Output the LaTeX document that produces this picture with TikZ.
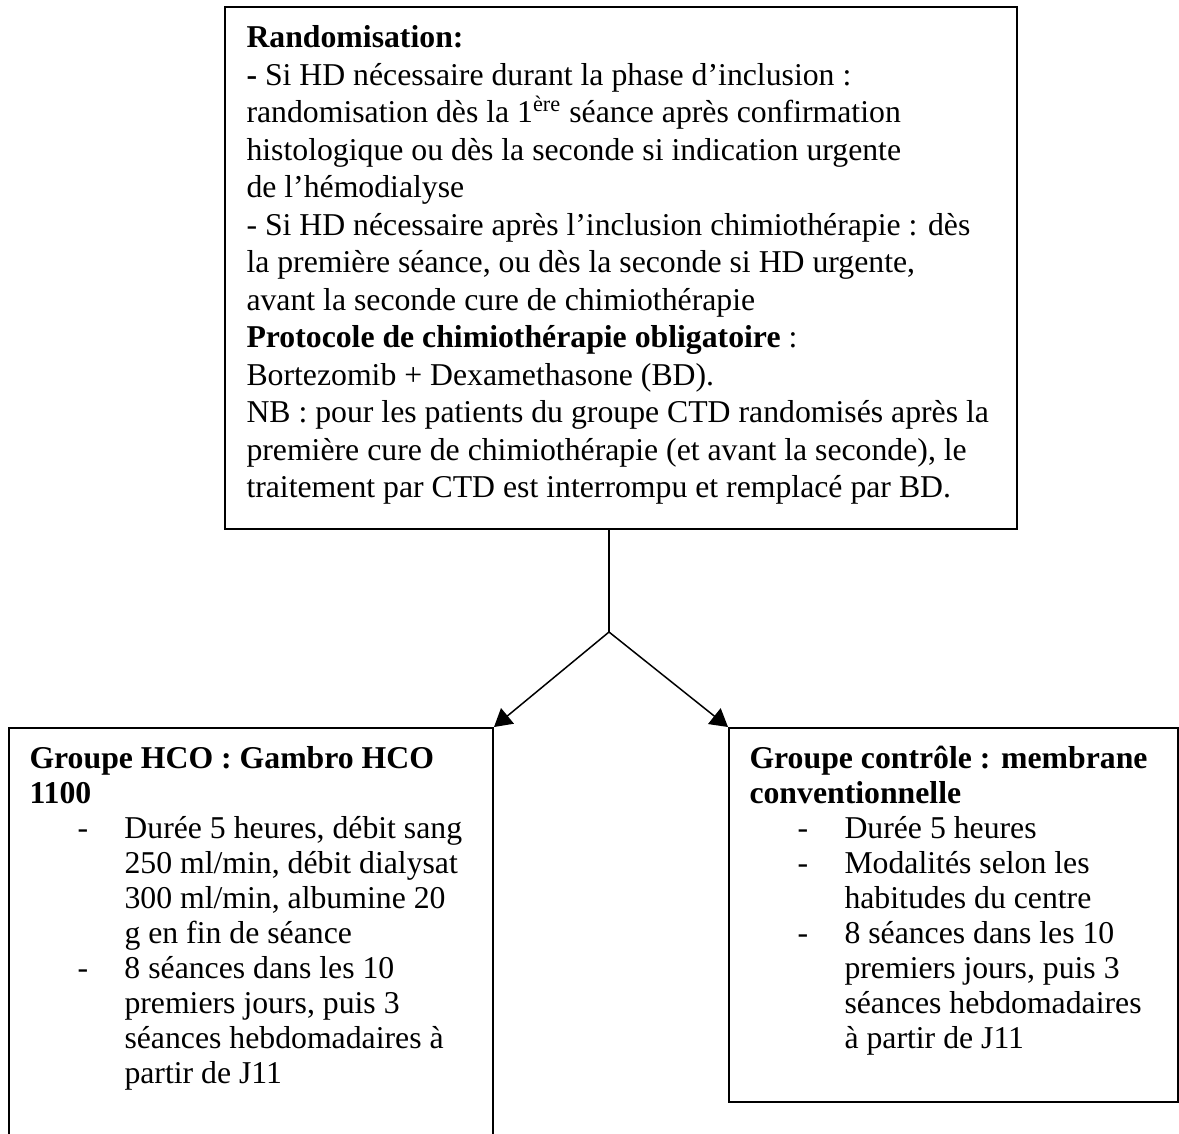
\documentclass[tikz,border=0pt]{standalone}
\usepackage{fontspec}
\setmainfont{Liberation Serif}
\usetikzlibrary{arrows.meta, positioning, fit}

% hanging dash for the list items
\newcommand{\itemdash}{\hspace*{19.2pt}\makebox[18.8pt][l]{-}}
\newcommand{\itemcont}{\hspace*{38pt}}

\begin{document}
\begin{tikzpicture}[x=0.4pt, y=-0.4pt,
    box/.style={draw, line width=0.8pt, inner sep=0pt},
    txt/.style={anchor=north west, align=left, inner sep=0pt, font=\fontsize{12.7}{14}\selectfont},
    arrow/.style={-{Triangle[length=7pt, width=8pt]}, line width=0.6pt}
]
\useasboundingbox (0,0) rectangle (1179,1133);
\clip (0,0) rectangle (1179,1133);

% Randomisation box
\node[box, fit={(225,7) (1017,529)}] (rando) {};
\node[txt, font=\fontsize{12.7}{15}\selectfont] (randotext) at ([shift={(22,19)}]rando.north west) {\textbf{Randomisation:}\\
\textbf{-} Si HD nécessaire durant la phase d’inclusion :\\
randomisation dès la 1\textsuperscript{ère} séance après confirmation\\
histologique ou dès la seconde si indication urgente\\
de l’hémodialyse\\
- Si HD nécessaire après l’inclusion chimiothérapie : dès\\
la première séance, ou dès la seconde si HD urgente,\\
avant la seconde cure de chimiothérapie\\
\textbf{Protocole de chimiothérapie obligatoire} :\\
Bortezomib + Dexamethasone (BD).\\
NB : pour les patients du groupe CTD randomisés après la\\
première cure de chimiothérapie (et avant la seconde), le\\
traitement par CTD est interrompu et remplacé par BD.};

% Two groups
\node[box, fit={(9,728) (493,1160)}] (hco) {};
\node[txt] (hcotext) at ([shift={(21,19)}]hco.north west) {\textbf{Groupe HCO : Gambro HCO}\\
\textbf{1100}\\
\itemdash Durée 5 heures, débit sang\\
\itemcont 250 ml/min, débit dialysat\\
\itemcont 300 ml/min, albumine 20\\
\itemcont g en fin de séance\\
\itemdash 8 séances dans les 10\\
\itemcont premiers jours, puis 3\\
\itemcont séances hebdomadaires à\\
\itemcont partir de J11};

\node[box, fit={(729,728) (1178,1102)}] (ctrl) {};
\node[txt] (ctrltext) at ([shift={(21,19)}]ctrl.north west) {\textbf{Groupe contrôle : membrane}\\
\textbf{conventionnelle}\\
\itemdash Durée 5 heures\\
\itemdash Modalités selon les\\
\itemcont habitudes du centre\\
\itemdash 8 séances dans les 10\\
\itemcont premiers jours, puis 3\\
\itemcont séances hebdomadaires\\
\itemcont à partir de J11};

% Split
\coordinate (split) at (609,632);
\draw[line width=0.6pt] (rando.south -| split) -- (split);
\draw[arrow] (split) -- (hco.north east);
\draw[arrow] (split) -- (ctrl.north west);
\end{tikzpicture}
\end{document}
